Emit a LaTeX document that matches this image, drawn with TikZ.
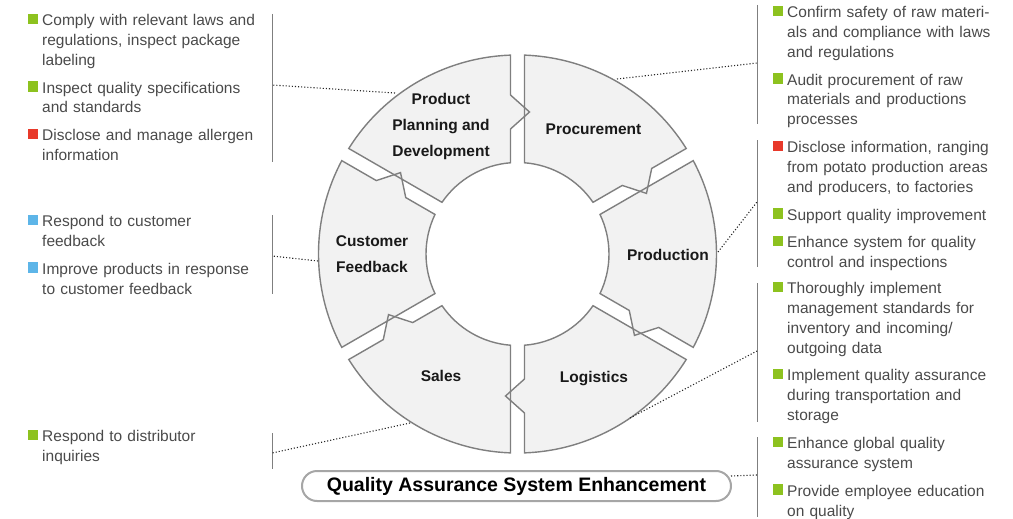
\documentclass[tikz,border=0pt]{standalone}
\usepackage{fontspec}
\setmainfont{Liberation Sans}
\usepackage{xcolor}
\usepackage{tikz}

\definecolor{segfill}{HTML}{F2F2F2}
\definecolor{segline}{HTML}{7F7F7F}
\definecolor{pillgray}{HTML}{A6A6A6}
\definecolor{notegray}{HTML}{4A4A4A}
\definecolor{bgreen}{HTML}{8DC21F}
\definecolor{bred}{HTML}{E8392A}
\definecolor{bblue}{HTML}{5DB5E8}

% coloured square in front of a note
\newcommand{\bsq}[1]{\leavevmode\strut\llap{\textcolor{#1}{\rule[1.5pt]{10pt}{10.5pt}}\hspace{4pt}}}

\begin{document}
\begin{tikzpicture}[x=1pt, y=-1pt,
    notes/.style={anchor=north west, inner sep=0pt, text width=240pt, align=left, text=notegray, font=\fontsize{15.5}{19.8}\selectfont},
    seglabel/.style={inner sep=0pt, align=center, text=black!90, font=\fontsize{15.5}{26}\selectfont\bfseries},
    bracket/.style={draw=segline, line width=1pt},
    leader/.style={dotted, line width=1.1pt, draw=black!85}]
    \useasboundingbox (0, 0) rectangle (1013, 519);

    % ring of six steps
    \begin{scope}[shift={(517.5, 254)}, yscale=-1]
        \foreach \a in {90, 30, -30, -90, -150, 150}
            \fill[segfill, rotate=\a] (2.02:199) arc[start angle=2.02, end angle=57.98, radius=199]
                -- (55.61:91.5) arc[start angle=55.61, end angle=4.39, radius=91.5]
                -- (125, 7) -- (142, -12) -- (159, 7) -- cycle;
        \foreach \a in {90, 30, -30, -90, -150, 150}
            \draw[segline, line width=1.4pt, line join=miter, rotate=\a] (2.02:199) arc[start angle=2.02, end angle=57.98, radius=199]
                -- (55.61:91.5) arc[start angle=55.61, end angle=4.39, radius=91.5]
                -- (125, 7) -- (142, -12) -- (159, 7) -- cycle;
    \end{scope}

    \node[seglabel] at (441, 126) (ppd) {Product\\Planning and\\Development};
    \node[seglabel] at (593.5, 129) (proc) {Procurement};
    \node[seglabel] at (668, 255) (prod) {Production};
    \node[seglabel] at (594, 379) (logi) {Logistics};
    \node[seglabel] at (441, 376) (sales) {Sales};
    \node[seglabel] at (372, 254) (cfb) {Customer\\Feedback};

    \node[draw=pillgray, line width=2pt, fill=white, rounded corners=15pt, minimum width=429pt, minimum height=30pt,
        inner sep=0pt, font=\fontsize{19.5}{24}\selectfont\bfseries] at (516.5, 486) (qase) {Quality Assurance System Enhancement};

    % notes on the left
    \node[notes] at (42, 11.7) (ppdnotes) {\bsq{bgreen}Comply with relevant laws and\\regulations, inspect package\\labeling\\[8pt]\bsq{bgreen}Inspect quality specifications\\and standards\\[8pt]\bsq{bred}Disclose and manage allergen\\information};
    \node[notes] at (42, 212.7) (cfbnotes) {\bsq{bblue}Respond to customer\\feedback\\[8pt]\bsq{bblue}Improve products in response\\to customer feedback};
    \node[notes] at (42, 427.7) (salesnotes) {\bsq{bgreen}Respond to distributor\\inquiries};

    % notes on the right
    \node[notes] at (787, 3.7) (procnotes) {\bsq{bgreen}Confirm safety of raw materi-\\als and compliance with laws\\and regulations\\[8pt]\bsq{bgreen}Audit procurement of raw\\materials and productions\\processes};
    \node[notes] at (787, 138.7) (prodnotes) {\bsq{bred}Disclose information, ranging\\from potato production areas\\and producers, to factories\\[8pt]\bsq{bgreen}Support quality improvement\\[8pt]\bsq{bgreen}Enhance system for quality\\control and inspections};
    \node[notes] at (787, 279.7) (loginotes) {\bsq{bgreen}Thoroughly implement\\management standards for\\inventory and incoming/\\outgoing data\\[8pt]\bsq{bgreen}Implement quality assurance\\during transportation and\\storage};
    \node[notes] at (787, 434.7) (qasenotes) {\bsq{bgreen}Enhance global quality\\assurance system\\[8pt]\bsq{bgreen}Provide employee education\\on quality};

    % brackets
    \draw[bracket] (272, 14) -- (272, 162);
    \draw[bracket] (272, 215) -- (272, 294);
    \draw[bracket] (272, 433) -- (272, 469);
    \draw[bracket] (757, 5) -- (757, 124);
    \draw[bracket] (757, 140) -- (757, 267);
    \draw[bracket] (757, 283) -- (757, 422);
    \draw[bracket] (757, 437) -- (757, 517);

    \coordinate (ppdbr) at (272, 85);
    \coordinate (cfbbr) at (272, 256);
    \coordinate (salesbr) at (272, 453);
    \coordinate (procbr) at (757, 63);
    \coordinate (prodbr) at (757, 202);
    \coordinate (logibr) at (757, 351);
    \coordinate (qasebr) at (757, 475);

    \coordinate (ppdpt) at (395, 93);
    \coordinate (cfbpt) at (318, 261);
    \coordinate (salespt) at (410, 423);
    \coordinate (procpt) at (617, 79);
    \coordinate (prodpt) at (718, 252);
    \coordinate (logipt) at (630, 418);
    \coordinate (qasept) at (731, 476);

    % leaders
    \draw[leader] (ppdpt) -- (ppdbr);
    \draw[leader] (cfbpt) -- (cfbbr);
    \draw[leader] (salespt) -- (salesbr);
    \draw[leader] (procpt) -- (procbr);
    \draw[leader] (prodpt) -- (prodbr);
    \draw[leader] (logipt) -- (logibr);
    \draw[leader] (qasept) -- (qasebr);
\end{tikzpicture}
\end{document}
